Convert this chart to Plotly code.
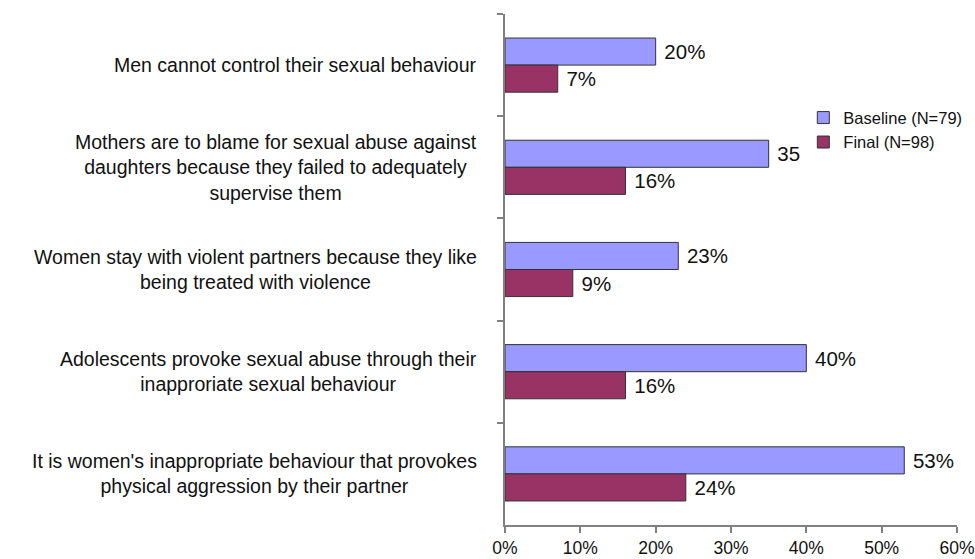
import plotly.graph_objects as go

categories = [
    "Men cannot control their sexual behaviour",
    "Mothers are to blame for sexual abuse against<br>daughters because they failed to adequately<br>supervise them",
    "Women stay with violent partners because they like<br>being treated with violence",
    "Adolescents provoke sexual abuse through their<br>inapproriate sexual behaviour",
    "It is women's inappropriate behaviour that provokes<br>physical aggression by their partner",
]
baseline = [20, 35, 23, 40, 53]
final = [7, 16, 9, 16, 24]
baseline_labels = ["20%", "35", "23%", "40%", "53%"]
final_labels = ["7%", "16%", "9%", "16%", "24%"]
x_ticks = [0, 10, 20, 30, 40, 50, 60]
x_tick_labels = ["0%", "10%", "20%", "30%", "40%", "50%", "60%"]

FONT = "Liberation Sans, Arial, sans-serif"

fig = go.Figure()
fig.add_trace(go.Bar(
    y=categories, x=baseline, orientation="h", name="Baseline (N=79)",
    marker=dict(color="#9999FF", line=dict(color="#333333", width=1)),
    text=baseline_labels, texttemplate=" %{text}", textposition="outside",
    textfont=dict(size=20.5, color="#111111", family=FONT), cliponaxis=False,
))
fig.add_trace(go.Bar(
    y=categories, x=final, orientation="h", name="Final (N=98)",
    marker=dict(color="#993366", line=dict(color="#333333", width=1)),
    text=final_labels, texttemplate=" %{text}", textposition="outside",
    textfont=dict(size=20.5, color="#111111", family=FONT), cliponaxis=False,
))

for c in categories:
    fig.add_annotation(
        x=0, xref="paper", y=c, yref="y", text=c, showarrow=False,
        xanchor="right", align="center", xshift=-26,
        font=dict(size=19.5, color="#111111", family=FONT),
    )

fig.update_layout(
    width=975, height=559,
    margin=dict(l=505, r=18, t=14, b=34, autoexpand=False),
    paper_bgcolor="white", plot_bgcolor="white",
    barmode="group", bargap=0.47, bargroupgap=0,
    font=dict(family=FONT, color="#111111"),
    showlegend=True,
    legend=dict(
        x=0.66, y=0.831, xanchor="left", yanchor="top",
        font=dict(size=16.5, family=FONT, color="#111111"),
        traceorder="normal", bgcolor="rgba(0,0,0,0)",
        itemwidth=30, tracegroupgap=0,
    ),
)
fig.update_xaxes(
    range=[0, 60], tickvals=x_ticks, ticktext=x_tick_labels,
    showgrid=False, zeroline=False, automargin=False,
    showline=True, linecolor="#808080", linewidth=2,
    ticks="outside", ticklen=6, tickcolor="#808080", tickwidth=2,
    tickfont=dict(size=17.5, family=FONT, color="#111111"),
)
fig.update_yaxes(
    autorange="reversed", showticklabels=False, automargin=False,
    showgrid=False, zeroline=False,
    showline=True, linecolor="#808080", linewidth=2,
    ticks="outside", ticklen=6, tickcolor="#808080", tickwidth=2,
    tickson="boundaries",
)

fig.write_html(
    "out.html",
    config={"displayModeBar": False},
    post_script="document.body.style.margin='0';document.body.style.overflow='hidden';",
)
